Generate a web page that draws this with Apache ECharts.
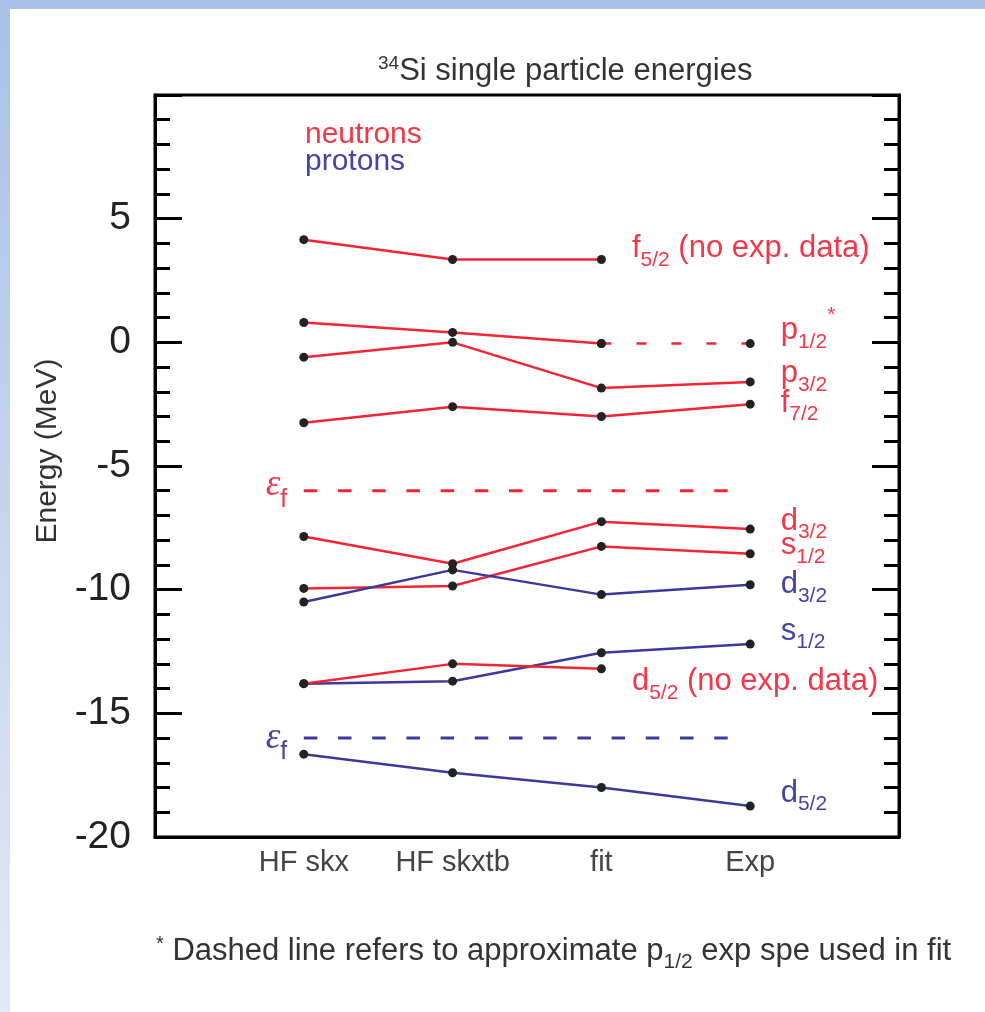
<!DOCTYPE html>
<html><head><meta charset="utf-8">
<script src="https://cdn.jsdelivr.net/npm/echarts@6/dist/echarts.min.js"></script>
<style>html,body{margin:0;padding:0;background:#fff}#c{width:985px;height:1012px}</style>
</head><body><div id="c"></div>
<script>
// ---------- data ----------
const categories = ['HF skx', 'HF skxtb', 'fit', 'Exp'];
const xPositions = [1, 2, 3, 4];
const yTickLabels = [-20, -15, -10, -5, 0, 5];
// neutron levels (MeV)
const n_f52 = [4.15, 3.35, 3.35, null];
const n_p12 = [0.8, 0.4, -0.05, -0.05];   // fit -> Exp segment is dashed
const n_p32 = [-0.6, 0.0, -1.85, -1.6];
const n_f72 = [-3.25, -2.6, -3.0, -2.5];
const n_d32 = [-7.85, -8.95, -7.25, -7.55];
const n_s12 = [-9.95, -9.85, -8.25, -8.55];
const n_d52 = [-13.8, -13.0, -13.2, null];
// proton levels (MeV)
const p_d32 = [-10.5, -9.2, -10.2, -9.8];
const p_s12 = [-13.8, -13.7, -12.55, -12.2];
const p_d52 = [-16.65, -17.4, -18.0, -18.75];
// Fermi energies
const fermiN = -6.0;
const fermiP = -16.0;
const fermiSpan = [1, 3.89];

// ---------- styles ----------
const F = 'Liberation Sans, Arial, sans-serif';
const RED = '#f42434', BLUE = '#3a3a9c';
const RED_T = '#f23848', BLUE_T = '#4444a6';
const LFS = 31;
function rich(color, fs) {
  return {
    m: { color, fontSize: fs, fontFamily: F },
    s: { color, fontSize: Math.round(fs * 0.68), fontFamily: F, padding: [Math.round(fs * 0.75), 0, 0, 0] },
    u: { color, fontSize: Math.round(fs * 0.68), fontFamily: F, padding: [0, 0, Math.round(fs * 1.0), 0] },
    e: { color, fontSize: fs, fontFamily: 'Liberation Serif, serif', fontStyle: 'italic' }
  };
}
function pts(vals, from, to) {
  const out = [];
  for (let i = from; i <= to; i++) if (vals[i] != null) out.push([xPositions[i], vals[i]]);
  return out;
}
function levelSeries(vals, color, tcolor, lab, opts) {
  opts = opts || {};
  const from = opts.from || 0;
  const to = opts.to != null ? opts.to : vals.length - 1;
  const data = pts(vals, from, to).map(v => ({ value: v }));
  if (lab) {
    const idx = lab.at != null ? lab.at - from : data.length - 1;
    data[idx].label = {
      show: true, position: 'right', distance: lab.dist || 26, offset: [0, lab.dy || 0],
      formatter: lab.text, rich: rich(tcolor, LFS)
    };
  }
  return {
    type: 'line', data, symbol: 'circle', symbolSize: 9,
    itemStyle: { color: '#222' },
    lineStyle: { color, width: 2.5, type: opts.dash || 'solid' },
    label: { show: false }, z: 3, animation: false, silent: true
  };
}
function fermiSeries(y, color, tcolor, dy) {
  return {
    type: 'line', symbol: 'circle', symbolSize: 1,
    itemStyle: { color: 'rgba(0,0,0,0)' },
    lineStyle: { color, width: 3, type: [13.5, 20.7] },
    data: [
      { value: [fermiSpan[0], y], label: { show: true, position: 'left', distance: 16, offset: [0, dy],
        formatter: '{e|ε}{s|f}', rich: rich(tcolor, 37) } },
      { value: [fermiSpan[1], y] }
    ],
    z: 2, animation: false, silent: true
  };
}

const series = [
  levelSeries(n_f52, RED, RED_T, { text: '{m|f}{s|5/2}{m| (no exp. data)}', at: 2, dist: 26, dy: -11 }),
  levelSeries(n_p12, RED, RED_T, null, { from: 0, to: 2 }),
  levelSeries(n_p12, RED, RED_T, { text: '{m|p}{s|1/2}{u|*}', dy: -13 }, { from: 2, to: 3, dash: [10, 25] }),
  levelSeries(n_p32, RED, RED_T, { text: '{m|p}{s|3/2}', dy: -8 }),
  levelSeries(n_f72, RED, RED_T, { text: '{m|f}{s|7/2}', dy: -1 }),
  levelSeries(n_d32, RED, RED_T, { text: '{m|d}{s|3/2}', dy: -8 }),
  levelSeries(n_s12, RED, RED_T, { text: '{m|s}{s|1/2}', dy: -8 }),
  levelSeries(p_d32, BLUE, BLUE_T, { text: '{m|d}{s|3/2}', dy: 0 }),
  levelSeries(p_s12, BLUE, BLUE_T, { text: '{m|s}{s|1/2}', dy: -13 }),
  levelSeries(n_d52, RED, RED_T, { text: '{m|d}{s|5/2}{m| (no exp. data)}', at: 2, dist: 26, dy: 13 }),
  levelSeries(p_d52, BLUE, BLUE_T, { text: '{m|d}{s|5/2}', dy: -13 }),
  fermiSeries(fermiN, RED, RED_T, -5),
  fermiSeries(fermiP, BLUE, BLUE_T, 0)
];

const chart = echarts.init(document.getElementById('c'), null, { renderer: 'canvas' });
const yAxisCommon = {
  type: 'value', min: -20, max: 10, interval: 5,
  axisLine: { show: true, lineStyle: { color: '#000', width: 3 } },
  axisTick: { show: true, inside: true, length: 27, lineStyle: { color: '#000', width: 3 } },
  minorTick: { show: true, splitNumber: 5, length: 15, lineStyle: { color: '#000', width: 3 } },
  splitLine: { show: false }, minorSplitLine: { show: false }
};
chart.setOption({
  animation: false,
  backgroundColor: '#fff',
  grid: { left: 155, right: 86, top: 95, bottom: 175, show: true, borderColor: '#000', borderWidth: 3 },
  xAxis: {
    type: 'value', min: 0, max: 5, interval: 1,
    axisLine: { show: true, onZero: false, lineStyle: { color: '#000', width: 3 } },
    axisTick: { show: false }, splitLine: { show: false },
    axisLabel: {
      margin: 11, color: '#444', fontSize: 29, fontFamily: F,
      formatter: v => { const i = xPositions.indexOf(v); return i >= 0 ? categories[i] : ''; }
    }
  },
  yAxis: [
    Object.assign({}, yAxisCommon, {
      position: 'left',
      axisLabel: {
        margin: 24, color: '#222', fontSize: 39, fontFamily: F,
        formatter: v => yTickLabels.indexOf(v) >= 0 ? String(v) : ''
      }
    }),
    Object.assign({}, yAxisCommon, {
      position: 'right', axisLabel: { show: false }
    })
  ],
  series,
  graphic: [
    { type: 'rect', left: 0, top: 0, shape: { width: 985, height: 9 }, style: { fill: '#a9c0e8' }, silent: true },
    { type: 'rect', left: 0, top: 0, shape: { width: 10, height: 1012 },
      style: { fill: new echarts.graphic.LinearGradient(0, 0, 0, 1, [
        { offset: 0, color: '#a9c0e8' }, { offset: 1, color: '#e2e9f6' }]) }, silent: true },
    { type: 'text', x: 48, y: 451, rotation: Math.PI / 2, silent: true,
      style: { text: 'Energy (MeV)', fill: '#333', fontSize: 30, fontFamily: F, textAlign: 'center', textVerticalAlign: 'middle' } },
    { type: 'text', left: 378, top: 54, style: {
        text: '{sup|34}{t|Si single particle energies}',
        rich: { sup: { fontSize: 19, fill: '#333', fontFamily: F, padding: [0, 0, 15, 0] },
                t: { fontSize: 31, fill: '#333', fontFamily: F } } } },
    { type: 'text', left: 305, top: 120, style: { text: 'neutrons', fill: RED_T, fontSize: 30, fontFamily: F } },
    { type: 'text', left: 305, top: 147, style: { text: 'protons', fill: BLUE_T, fontSize: 30, fontFamily: F } },
    { type: 'text', left: 156, top: 934, style: {
        text: '{a|*}{t| Dashed line refers to approximate p}{s|1/2}{t| exp spe used in fit}',
        rich: { a: { fontSize: 20, fill: '#333', fontFamily: F, padding: [0, 0, 15, 0] },
                t: { fontSize: 31, fill: '#333', fontFamily: F },
                s: { fontSize: 21, fill: '#333', fontFamily: F, padding: [22, 0, 0, 0] } } } }
  ]
});
</script>
</body></html>
